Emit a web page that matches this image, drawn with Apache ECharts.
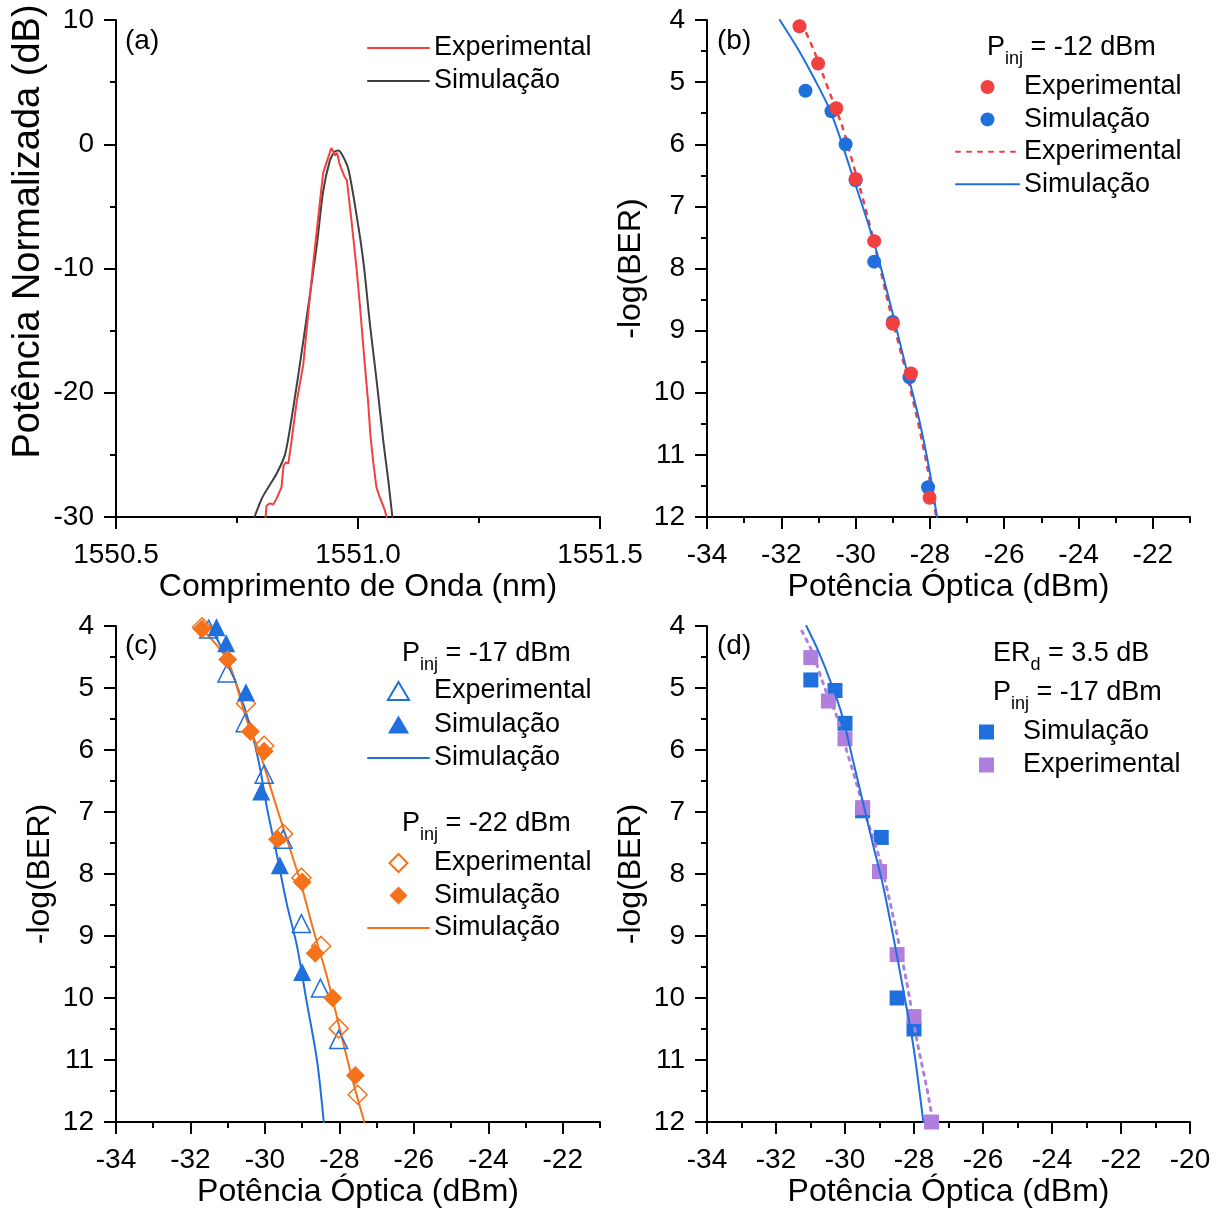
<!DOCTYPE html>
<html>
<head>
<meta charset="utf-8">
<script src="https://cdn.jsdelivr.net/npm/echarts@6/dist/echarts.min.js"></script>
<style>
  html, body { margin: 0; padding: 0; background: #fff; }
  #chart { width: 1225px; height: 1211px; }
</style>
</head>
<body>
<div id="chart"></div>
<script>
const FONT = '"Liberation Sans", Arial, Helvetica, sans-serif';

// ---- (a) normalised optical spectra: [wavelength nm, dB] ----
const specExp = [
  [1550.809, -30], [1550.811, -29.1], [1550.818, -28.9], [1550.825, -29.0], [1550.832, -28.5],
  [1550.842, -27.6], [1550.846, -25.9], [1550.851, -25.6], [1550.856, -25.7], [1550.863, -23.8],
  [1550.873, -20.8], [1550.887, -17.7], [1550.897, -13.7], [1550.908, -9.4], [1550.922, -4.4],
  [1550.928, -2.3], [1550.939, -1.0], [1550.945, -0.3], [1550.949, -0.2], [1550.953, -0.9],
  [1550.957, -0.7], [1550.962, -1.6], [1550.966, -2.0], [1550.972, -2.6], [1550.977, -2.9],
  [1550.987, -6.3], [1550.997, -10.0], [1551.004, -13.0], [1551.014, -17.7], [1551.021, -20.8],
  [1551.026, -23.6], [1551.031, -25.4], [1551.038, -27.6], [1551.044, -28.3], [1551.049, -28.8],
  [1551.055, -29.4], [1551.059, -30]
];
const specSim = [
  [1550.786, -30], [1550.796, -29.0], [1550.804, -28.3], [1550.818, -27.4], [1550.832, -26.5],
  [1550.849, -25.0], [1550.863, -22.0], [1550.880, -17.7], [1550.897, -13.1], [1550.915, -8.1],
  [1550.928, -3.8], [1550.942, -1.3], [1550.952, -0.6], [1550.959, -0.5], [1550.968, -0.9],
  [1550.980, -2.0], [1550.997, -5.7], [1551.011, -9.4], [1551.025, -14.6], [1551.039, -19.2],
  [1551.052, -23.8], [1551.063, -27.2], [1551.071, -30]
];

// ---- (b) BER curves, Pinj = -12 dBm: [power dBm, -log(BER)] ----
const bExpPts = [[-31.51, 4.10], [-31.01, 4.70], [-30.52, 5.42], [-30.00, 6.56], [-29.50, 7.56], [-29.00, 8.89], [-28.51, 9.69], [-28.01, 11.69]];
const bSimPts = [[-31.35, 5.14], [-30.65, 5.47], [-30.27, 6.00], [-30.00, 6.58], [-29.50, 7.89], [-29.00, 8.86], [-28.55, 9.75], [-28.05, 11.52]];
const bExpFit = [[-31.45, 4.05], [-31.13, 4.48], [-30.86, 4.91], [-30.63, 5.28], [-30.36, 5.71], [-30.09, 6.27], [-29.77, 6.95], [-29.46, 7.69], [-29.10, 8.61], [-28.73, 9.47], [-28.37, 10.34], [-28.05, 11.26], [-27.83, 12.0]];
const bSimFit = [[-32.04, 4.0], [-31.54, 4.48], [-31.09, 4.97], [-30.72, 5.41], [-30.45, 5.84], [-30.18, 6.33], [-29.91, 6.82], [-29.64, 7.32], [-29.37, 7.87], [-29.00, 8.73], [-28.64, 9.60], [-28.28, 10.46], [-28.01, 11.26], [-27.81, 12.0]];

// ---- (c) BER curves, Pinj = -17 dBm and -22 dBm ----
const c17ExpPts = [[-31.51, 4.05], [-31.02, 4.76], [-30.53, 5.56], [-30.02, 6.39], [-29.51, 7.44], [-29.02, 8.80], [-28.51, 9.84], [-28.02, 10.67]];
const c17SimPts = [[-31.30, 4.02], [-31.04, 4.28], [-30.51, 5.07], [-30.10, 6.67], [-29.60, 7.86], [-29.00, 9.58]];
const c17SimFit = [[-31.47, 4.0], [-31.02, 4.54], [-30.57, 5.28], [-30.30, 5.84], [-30.12, 6.33], [-29.94, 6.95], [-29.68, 7.69], [-29.41, 8.49], [-29.14, 9.16], [-28.87, 10.09], [-28.60, 11.01], [-28.42, 12.0]];
const c22ExpPts = [[-31.69, 4.02], [-30.51, 5.25], [-30.02, 5.93], [-29.51, 7.35], [-29.02, 8.06], [-28.49, 9.16], [-28.02, 10.49], [-27.51, 11.56]];
const c22SimPts = [[-31.69, 4.05], [-31.00, 4.54], [-30.39, 5.70], [-30.02, 6.02], [-29.66, 7.44], [-29.00, 8.13], [-28.65, 9.28], [-28.18, 10.0], [-27.57, 11.25]];
const c22SimFit = [[-31.78, 4.0], [-31.02, 4.54], [-30.48, 5.53], [-30.12, 6.08], [-29.77, 6.76], [-29.41, 7.44], [-29.05, 8.12], [-28.69, 8.92], [-28.33, 9.66], [-27.98, 10.52], [-27.62, 11.38], [-27.33, 12.0]];

// ---- (d) BER curves, ERd = 3.5 dB, Pinj = -17 dBm ----
const dSimPts = [[-30.99, 4.87], [-30.29, 5.04], [-30.00, 5.57], [-29.49, 6.98], [-28.95, 7.41], [-28.49, 10.0], [-28.00, 10.50]];
const dExpPts = [[-30.99, 4.51], [-30.48, 5.21], [-30.00, 5.82], [-29.49, 6.93], [-29.00, 7.96], [-28.49, 9.30], [-28.00, 10.30], [-27.49, 12.0]];
const dSimFit = [[-31.12, 4.0], [-30.76, 4.42], [-30.37, 4.97], [-30.07, 5.47], [-29.78, 6.14], [-29.49, 6.82], [-29.20, 7.50], [-28.90, 8.18], [-28.61, 8.98], [-28.32, 9.84], [-28.02, 10.77], [-27.73, 12.0]];
const dExpFit = [[-31.25, 4.08], [-30.95, 4.42], [-30.56, 5.04], [-30.27, 5.41], [-29.98, 5.96], [-29.68, 6.51], [-29.39, 7.07], [-29.00, 7.75], [-28.61, 8.67], [-28.22, 9.72], [-27.93, 10.64], [-27.63, 11.45], [-27.45, 12.0]];

// ---- tick positions for the power axes ----
const powerMajor = [-34, -32, -30, -28, -26, -24, -22];
const powerMinor = [-33, -31, -29, -27, -25, -23, -21];

// ---- legend texts ----
const legendText = {
  aExp: 'Experimental', aSim: 'Simulação',
  bExpPts: 'Experimental', bSimPts: 'Simulação', bExpFit: 'Experimental', bSimFit: 'Simulação',
  c17Exp: 'Experimental', c17Sim: 'Simulação', c17Fit: 'Simulação',
  c22Exp: 'Experimental', c22Sim: 'Simulação', c22Fit: 'Simulação',
  dSim: 'Simulação', dExp: 'Experimental'
};

const RED = '#F23F3F', GREY = '#404040', BLUE = '#1F6FDD', ORANGE = '#F5721A', PURPLE = '#B07FDE';

// legend marker outlines that keep their aspect inside the wide legend slot
const ICON_TRI = 'path://M10,0 L20,17 L0,17 Z';
const ICON_DIA = 'path://M10,0 L20,10 L10,20 L0,10 Z';

const grids = [
  { left: 116, top: 20, width: 484, height: 497 },
  { left: 707, top: 20, width: 483, height: 497 },
  { left: 116, top: 626, width: 484, height: 496 },
  { left: 707, top: 626, width: 483, height: 496 }
];

const black = '#000';
const axisLine = { show: true, onZero: false, lineStyle: { color: black, width: 2 } };
const axisTick = { show: true, inside: false, length: 12, lineStyle: { color: black, width: 2 } };
const minorTick = { show: true, splitNumber: 2, length: 6, lineStyle: { color: black, width: 2 } };
const labelStyle = { color: black, fontSize: 28, fontFamily: FONT, margin: 22 };
const labelStyleX = Object.assign({}, labelStyle, { margin: 24 });
const nameStyleX = { color: black, fontSize: 32, fontFamily: FONT };

function powerAxis(gridIndex, max, useCustom) {
  const main = {
    type: 'value', gridIndex, position: 'bottom', min: -34, max, interval: 2,
    axisLine, splitLine: { show: false },
    axisTick: useCustom ? Object.assign({}, axisTick, { customValues: powerMajor }) : axisTick,
    minorTick: useCustom ? { show: false } : minorTick,
    axisLabel: useCustom ? Object.assign({}, labelStyleX, { customValues: powerMajor }) : labelStyleX,
    name: 'Potência Óptica (dBm)', nameLocation: 'middle', nameGap: 54, nameTextStyle: nameStyleX
  };
  if (!useCustom) return [main];
  const minor = {
    type: 'value', gridIndex, position: 'bottom', min: -34, max, interval: 1,
    axisLine: { show: false }, splitLine: { show: false },
    axisTick: Object.assign({}, axisTick, { length: 6, customValues: powerMinor }),
    minorTick: { show: false }, axisLabel: { show: false }
  };
  return [main, minor];
}

function berAxis(gridIndex) {
  return {
    type: 'value', gridIndex, inverse: true, min: 4, max: 12, interval: 1,
    axisLine, axisTick, minorTick, splitLine: { show: false }, axisLabel: labelStyle,
    name: '-log(BER)', nameLocation: 'middle', nameGap: 60, nameRotate: 90,
    nameTextStyle: { color: black, fontSize: 32, fontFamily: FONT }
  };
}

const xAxes = [
  {
    type: 'value', gridIndex: 0, min: 1550.5, max: 1551.5, interval: 0.5,
    axisLine, axisTick, minorTick, splitLine: { show: false },
    axisLabel: Object.assign({}, labelStyleX, { formatter: v => v.toFixed(1) }),
    name: 'Comprimento de Onda (nm)', nameLocation: 'middle', nameGap: 54, nameTextStyle: nameStyleX
  },
  ...powerAxis(1, -21, true),   // xAxis 1 (labelled) and 2 (odd ticks)
  ...powerAxis(2, -21, true),   // xAxis 3 (labelled) and 4 (odd ticks)
  ...powerAxis(3, -20, false)   // xAxis 5
];

const yAxes = [
  {
    type: 'value', gridIndex: 0, min: -30, max: 10, interval: 10,
    axisLine, axisTick, minorTick, splitLine: { show: false }, axisLabel: labelStyle,
    name: 'Potência Normalizada (dB)', nameLocation: 'middle', nameGap: 68, nameRotate: 90,
    nameTextStyle: { color: black, fontSize: 38, fontFamily: FONT, padding: [0, 0, 0, 74] }
  },
  berAxis(1), berAxis(2), berAxis(3)
];

function line(name, data, xi, yi, color, type, width, z) {
  return {
    type: 'line', name, data, xAxisIndex: xi, yAxisIndex: yi, symbol: 'none',
    smooth: type === 'raw' ? false : 0.3,
    lineStyle: { color, width: width || 2, type: type === 'raw' || !type ? 'solid' : type, cap: 'round' },
    itemStyle: { color }, z: z || 2, animation: false, silent: true
  };
}
function pts(name, data, xi, yi, symbol, size, color, hollow, z) {
  return {
    type: 'scatter', name, data, xAxisIndex: xi, yAxisIndex: yi, symbol, symbolSize: size,
    itemStyle: hollow
      ? { color: 'rgba(255,255,255,0)', borderColor: color, borderWidth: 1.5, opacity: 1 }
      : { color, opacity: 1 },
    z: z || 3, animation: false, silent: true
  };
}

const series = [
  // (a)
  line('aSim', specSim, 0, 0, GREY, 'solid', 2),
  line('aExp', specExp, 0, 0, RED, 'raw', 2),
  // (b)
  line('bExpFit', bExpFit, 1, 1, RED, [4, 7], 2.5),
  line('bSimFit', bSimFit, 1, 1, BLUE, 'solid', 2),
  pts('bSimPts', bSimPts, 1, 1, 'circle', 14, BLUE, false, 4),
  pts('bExpPts', bExpPts, 1, 1, 'circle', 14, RED, false, 5),
  // (c)
  line('c17Fit', c17SimFit, 3, 2, BLUE, 'solid', 2),
  line('c22Fit', c22SimFit, 3, 2, ORANGE, 'solid', 2),
  pts('c17Exp', c17ExpPts, 3, 2, 'triangle', 18, BLUE, true, 4),
  pts('c22Exp', c22ExpPts, 3, 2, 'diamond', 19, ORANGE, true, 4),
  pts('c17Sim', c17SimPts, 3, 2, 'triangle', 18, BLUE, false, 5),
  pts('c22Sim', c22SimPts, 3, 2, 'diamond', 19, ORANGE, false, 5),
  // (d)
  pts('dSim', dSimPts, 5, 3, 'rect', 15, BLUE, false, 3),
  pts('dExp', dExpPts, 5, 3, 'rect', 15, PURPLE, false, 4),
  line('dExpFit', dExpFit, 5, 3, PURPLE, [3, 6], 3, 5),
  line('dSimFit', dSimFit, 5, 3, BLUE, 'solid', 2, 6)
];

const legendTextStyle = { color: black, fontSize: 27, fontFamily: FONT, lineHeight: 28 };
// line entries: only the stroke, no marker in the middle
const lineItem = name => ({ name, itemStyle: { opacity: 0 } });
const markItem = (name, icon) => (icon ? { name, icon } : { name });
function legend(left, top, data, itemWidth, itemHeight, itemGap, textPad) {
  return {
    orient: 'vertical', align: 'left', left, top, data, itemWidth, itemHeight, itemGap,
    padding: 0, selectedMode: false, symbolKeepAspect: true,
    textStyle: textPad ? Object.assign({}, legendTextStyle, { padding: [0, 0, 0, textPad] }) : legendTextStyle,
    formatter: n => legendText[n]
  };
}

const legends = [
  legend(367, 34, [lineItem('aExp'), lineItem('aSim')], 61, 14, 5),
  legend(955, 73, [markItem('bExpPts'), markItem('bSimPts'), lineItem('bExpFit'), lineItem('bSimFit')], 63, 14, 4.4),
  legend(367, 677, [markItem('c17Exp', ICON_TRI), markItem('c17Sim', ICON_TRI), lineItem('c17Fit')], 61, 18, 5.5),
  legend(367, 849, [markItem('c22Exp', ICON_DIA), markItem('c22Sim', ICON_DIA), lineItem('c22Fit')], 61, 18, 4.5),
  // square markers: a square slot, text pushed to the common column
  legend(979, 718, [markItem('dSim', 'rect'), markItem('dExp', 'rect')], 15, 15, 5, 24)
];

// Text with a subscript: main part, subscript, remainder
function subText(x, y, main, sub, rest) {
  return {
    type: 'text', x, y, silent: true,
    style: {
      text: '{m|' + main + '}{s|' + sub + '}{m|' + rest + '}',
      align: 'left', verticalAlign: 'middle',
      rich: {
        m: { fontSize: 27, fontFamily: FONT, fill: black, lineHeight: 40, verticalAlign: 'middle' },
        s: { fontSize: 18, fontFamily: FONT, fill: black, lineHeight: 22, verticalAlign: 'bottom' }
      }
    }
  };
}
function plainText(x, y, text) {
  return {
    type: 'text', x, y, silent: true,
    style: { text, fontSize: 28, fontFamily: FONT, fill: black, align: 'left', verticalAlign: 'middle' }
  };
}

const graphics = [
  plainText(125, 41, '(a)'),
  plainText(717, 41, '(b)'),
  plainText(125, 646, '(c)'),
  plainText(717, 646, '(d)'),
  subText(987, 48, 'P', 'inj', ' = -12 dBm'),
  subText(402, 654, 'P', 'inj', ' = -17 dBm'),
  subText(402, 824, 'P', 'inj', ' = -22 dBm'),
  subText(993, 654, 'ER', 'd', ' = 3.5 dB'),
  subText(993, 693, 'P', 'inj', ' = -17 dBm')
];

const chart = echarts.init(document.getElementById('chart'), null, { renderer: 'canvas' });
chart.setOption({
  backgroundColor: '#fff',
  animation: false,
  grid: grids,
  xAxis: xAxes,
  yAxis: yAxes,
  legend: legends,
  series,
  graphic: graphics
});
</script>
</body>
</html>
